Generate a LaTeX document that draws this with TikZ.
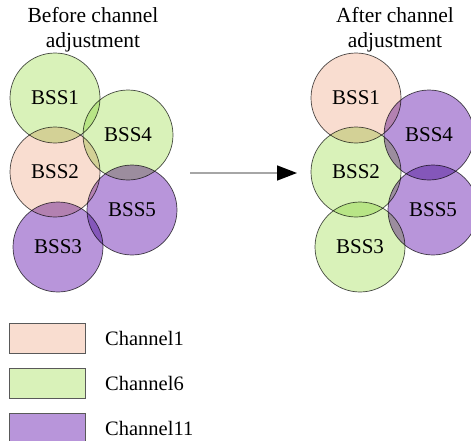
\documentclass[tikz,border=0pt]{standalone}
\usepackage{fontspec}
\setmainfont{Liberation Serif}
\usepackage{tikz}
\usetikzlibrary{arrows.meta}
\definecolor{chA}{HTML}{F9DDD0}
\definecolor{chF}{HTML}{D9F2B9}
\definecolor{chK}{HTML}{B895DA}

\begin{document}
\begin{tikzpicture}[x=1pt, y=-1pt,
  bss/.style={draw=black!70, line width=0.7pt, circle, minimum size=90pt, inner sep=0pt, font=\fontsize{21}{24}\selectfont},
  ttl/.style={align=center, font=\fontsize{21.5}{25}\selectfont},
  key/.style={draw=black!65, line width=0.7pt, minimum width=76pt, minimum height=30pt, inner sep=0pt},
  lbl/.style={anchor=west, inner sep=0pt, font=\fontsize{20.5}{24}\selectfont},
  arr/.style={draw=black!35, line width=1.5pt, -{Triangle[length=20pt, width=15pt, color=black]}}]
\useasboundingbox (0,0) rectangle (471,440);
\node[ttl] (before) at (93,30) {Before channel\\adjustment};
\node[ttl] (after)  at (395,30) {After channel\\adjustment};
\begin{scope}[blend group=multiply]
\node[bss, fill=chF] (l1) at (55,98)  {BSS1};
\node[bss, fill=chF] (l4) at (128,135) {BSS4};
\node[bss, fill=chA] (l2) at (55,172) {BSS2};
\node[bss, fill=chK] (l5) at (132,210) {BSS5};
\node[bss, fill=chK] (l3) at (58,247) {BSS3};
\node[bss, fill=chA] (r1) at (356,98)  {BSS1};
\node[bss, fill=chK] (r4) at (429,135) {BSS4};
\node[bss, fill=chF] (r2) at (356,172) {BSS2};
\node[bss, fill=chK] (r5) at (433,210) {BSS5};
\node[bss, fill=chF] (r3) at (360,247) {BSS3};
\end{scope}
\coordinate (from) at (190,173);
\coordinate (to)   at (297,173);
\draw[arr] (from) -- (to);
\node[key, fill=chA] (k1) at (47,338) {};
\node[key, fill=chF] (k6) at (47,383) {};
\node[key, fill=chK] (k11) at (47,428) {};
\node[lbl] (t1)  at (105,338) {Channel1};
\node[lbl] (t6)  at (105,383) {Channel6};
\node[lbl] (t11) at (105,428) {Channel11};
\end{tikzpicture}
\end{document}
